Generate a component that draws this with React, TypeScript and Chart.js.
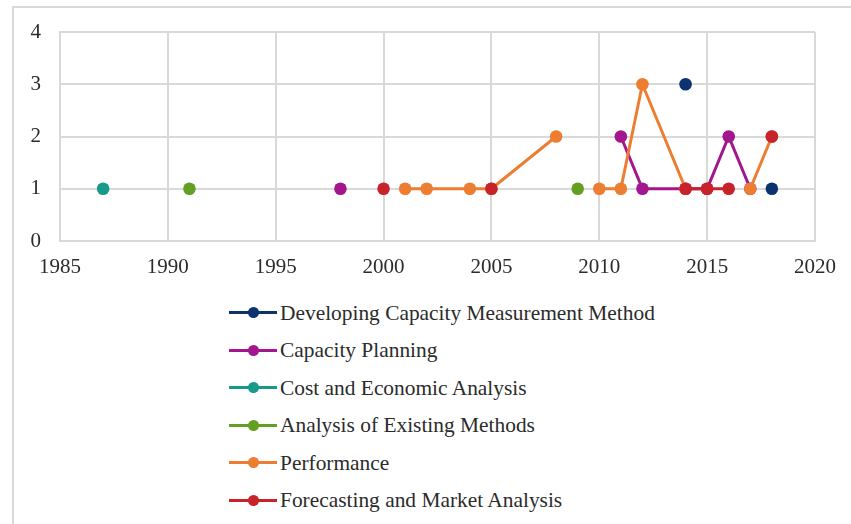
import React, { useEffect, useRef } from "react";
import { Chart, registerables } from "chart.js";

Chart.register(...registerables);

const years = [1987, 1991, 1998, 2000, 2001, 2002, 2004, 2005, 2008, 2009, 2010, 2011, 2012, 2014, 2015, 2016, 2017, 2018];
const n = null;
const developing = [n, n, n, n, n, n, n, n, n, n, n, n, n, 3, n, n, n, 1];
const planning = [n, n, 1, n, n, n, n, n, n, n, n, 2, 1, 1, 1, 2, 1, n];
const costEconomic = [1, n, n, n, n, n, n, n, n, n, n, n, n, n, n, n, n, n];
const existingMethods = [n, 1, n, n, n, n, n, n, n, 1, n, n, n, n, n, n, n, n];
const performance = [n, n, n, n, 1, 1, 1, 1, 2, n, 1, 1, 3, 1, n, n, 1, 2];
const forecasting = [n, n, n, 1, n, n, n, 1, n, n, n, n, n, 1, 1, 1, n, 2];

const seriesNames = [
  "Developing Capacity Measurement Method",
  "Capacity Planning",
  "Cost and Economic Analysis",
  "Analysis of Existing Methods",
  "Performance",
  "Forecasting and Market Analysis",
];
const seriesValues = [developing, planning, costEconomic, existingMethods, performance, forecasting];
const seriesColors = ["#0c3370", "#a3168d", "#169a8a", "#63a021", "#ed7d31", "#c8232b"];

const xMin = 1985;
const xMax = 2020;
const yMin = 0;
const yMax = 4;

const FONT = "'Liberation Serif', 'Times New Roman', serif";

export default function App() {
  const ref = useRef<HTMLCanvasElement | null>(null);

  useEffect(() => {
    if (!ref.current) return;
    const datasets = seriesNames.map((name, i) => ({
      label: name,
      data: years.map((x, j) => ({ x, y: seriesValues[i][j] })),
      borderColor: seriesColors[i],
      backgroundColor: seriesColors[i],
      pointBackgroundColor: seriesColors[i],
      pointBorderColor: seriesColors[i],
      pointRadius: 6.3,
      pointBorderWidth: 0,
      borderWidth: 3,
      spanGaps: false,
      tension: 0,
      order: seriesNames.length - 1 - i,
    }));
    const chart = new Chart(ref.current, {
      type: "line",
      data: { datasets },
      options: {
        animation: false,
        responsive: false,
        devicePixelRatio: 1,
        layout: { padding: { top: 32, right: 36, left: 0, bottom: 0 } },
        plugins: { legend: { display: false }, tooltip: { enabled: false }, title: { display: false } },
        scales: {
          x: {
            type: "linear",
            min: xMin,
            max: xMax,
            afterFit: (s: any) => {
              s.height = 49;
            },
            ticks: {
              stepSize: 5,
              maxRotation: 0,
              autoSkip: false,
              padding: 14,
              color: "#2b2b2b",
              font: { family: FONT, size: 21 },
              callback: (v: any) => String(v),
            },
            grid: { color: "#d9d9d9", lineWidth: 2, drawTicks: false },
            border: { color: "#d9d9d9", width: 2 },
          },
          y: {
            min: yMin,
            max: yMax,
            afterFit: (s: any) => {
              s.width = 60;
            },
            ticks: {
              stepSize: 1,
              padding: 19,
              color: "#2b2b2b",
              font: { family: FONT, size: 21 },
            },
            grid: { color: "#d9d9d9", lineWidth: 2, drawTicks: false },
            border: { color: "#d9d9d9", width: 2 },
          },
        },
      },
    });
    return () => chart.destroy();
  }, []);

  return (
    <div
      style={{
        position: "absolute",
        left: 0,
        top: 0,
        width: 851,
        height: 524,
        overflow: "hidden",
        background: "#ffffff",
        fontFamily: FONT,
      }}
    >
      <div
        style={{
          position: "absolute",
          left: 12,
          top: 6,
          width: 900,
          height: 600,
          border: "2px solid #d9d9d9",
        }}
      />
      <canvas
        ref={ref}
        width={851}
        height={290}
        style={{ position: "absolute", left: 0, top: 0, width: 851, height: 290 }}
      />
      {seriesNames.map((name, i) => (
        <div
          key={name}
          style={{
            position: "absolute",
            left: 229,
            top: 312.5 + i * 37.5 - 15,
            height: 30,
            display: "flex",
            alignItems: "center",
            whiteSpace: "nowrap",
          }}
        >
          <div style={{ position: "relative", width: 48, height: 30, marginRight: 3 }}>
            <div
              style={{
                position: "absolute",
                left: 0,
                top: 13.5,
                width: 48,
                height: 3,
                background: seriesColors[i],
              }}
            />
            <div
              style={{
                position: "absolute",
                left: 18.5,
                top: 9.5,
                width: 11,
                height: 11,
                borderRadius: "50%",
                background: seriesColors[i],
              }}
            />
          </div>
          <span style={{ fontSize: 21.4, color: "#2b2b2b", lineHeight: "30px" }}>{name}</span>
        </div>
      ))}
    </div>
  );
}
